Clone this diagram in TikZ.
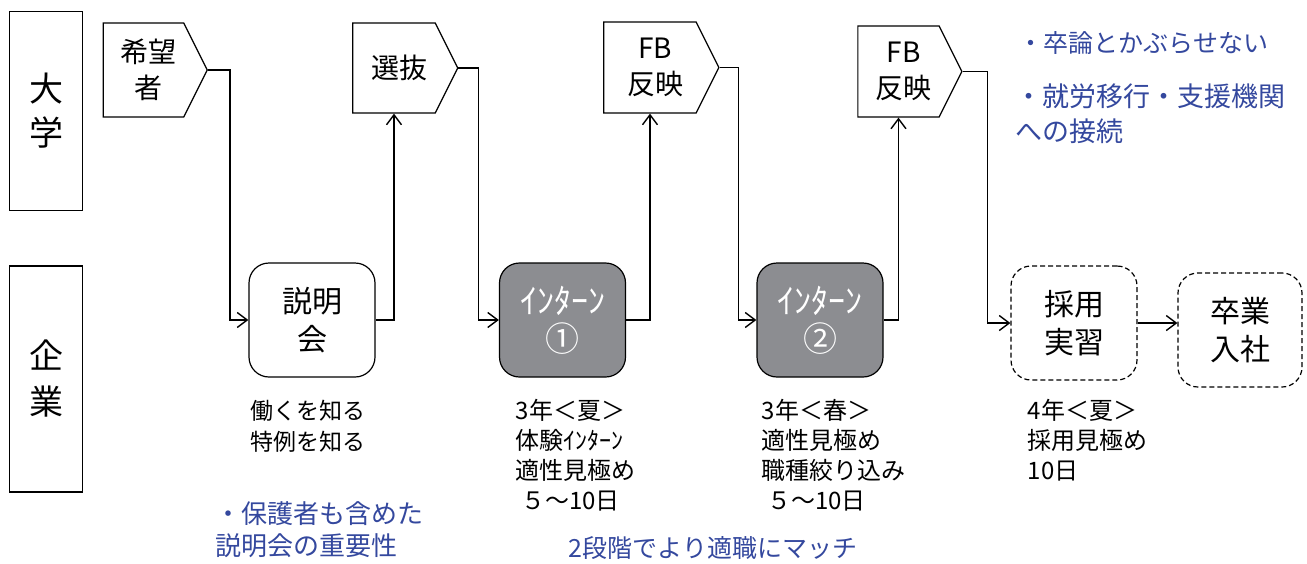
\documentclass[tikz,border=0pt]{standalone}
\usepackage{fontspec}
\setmainfont{Noto Sans CJK JP}
\usetikzlibrary{arrows.meta,shapes.symbols,positioning}
\definecolor{interngray}{RGB}{140,141,145}
\definecolor{noteblue}{RGB}{52,72,158}

\begin{document}
\begin{tikzpicture}[x=1pt, y=-1pt, line width=1.4pt,
  >={Straight Barb[length=10pt,width=15pt]},
  side/.style={draw, line width=1.2pt, minimum width=73pt, align=center, font=\fontsize{34}{44}\selectfont},
  flag/.style={draw, line width=1.2pt, signal, signal to=east, signal pointer angle=127},
  flagtext/.style={xshift=5pt, align=center, font=\fontsize{28}{36}\selectfont},
  stage/.style={draw, line width=1.2pt, rounded corners=20pt, minimum width=126pt, minimum height=114pt, align=center, font=\fontsize{30}{38}\selectfont},
  intern/.style={stage, fill=interngray, text=white, font=\fontsize{34}{38}\selectfont},
  plan/.style={stage, dash pattern=on 5pt off 3pt},
  memo/.style={anchor=north west, inner sep=0pt, align=left, font=\fontsize{24}{30}\selectfont},
  remark/.style={inner sep=0pt, align=left, text=noteblue, font=\fontsize{27}{34}\selectfont}]
\useasboundingbox (0,0) rectangle (1307,563);

\node[side, minimum height=199pt] (univ) at (46,111) {大\\学};
\node[side, minimum height=226pt, font=\fontsize{34}{46}\selectfont] (firm) at (46,379) {企\\業};

\node[flag, minimum width=104pt, minimum height=94pt, label={[flagtext]center:希望\\者}] (wish) at (143.5,70) {};
\node[flag, minimum width=105pt, minimum height=90pt, label={[flagtext]center:選抜}] (select) at (394,68) {};
\node[flag, minimum width=115pt, minimum height=91pt, label={[flagtext]center:FB\\反映}] (fbA) at (650,67.5) {};
\node[flag, minimum width=104pt, minimum height=91pt, label={[flagtext]center:FB\\反映}] (fbB) at (898.5,71.5) {};

\node[stage] (info) at (312,320) {説明\\会};
\node[intern] (internA) at (562.5,320) {ｲﾝﾀｰﾝ\\①};
\node[intern] (internB) at (820,320) {ｲﾝﾀｰﾝ\\②};
\node[plan] (trial) at (1074,323) {採用\\実習};
\node[plan, minimum width=124pt] (join) at (1240,330) {卒業\\入社};

\draw[->] (wish.east) -- ++(22,0) |- (info.west);
\draw[->] (info.east) -| (select.south);
\draw[->] (select.east) -- ++(20,0) |- (internA.west);
\draw[->] (internA.east) -| (fbA.south);
\draw[->] (fbA.east) -- ++(19,0) |- (internB.west);
\draw[->] (internB.east) -| (fbB.south);
\draw[->] (fbB.east) -- ++(25,0) |- (trial.west);
\draw[->] (trial.east) -- (trial.east -| join.west);

\node[memo, font=\fontsize{23}{31}\selectfont] (infoNote) at (250,399) {働くを知る\\特例を知る};
\node[memo] (internANote) at (515,399) {3年＜夏＞\\体験ｲﾝﾀｰﾝ\\適性見極め\\\ ５～10日};
\node[memo] (internBNote) at (761,399) {3年＜春＞\\適性見極め\\職種絞り込み\\\ ５～10日};
\node[memo] (trialNote) at (1027,399) {4年＜夏＞\\採用見極め\\10日};

% blue remarks
\node[remark, anchor=west, font=\fontsize{25}{34}\selectfont] (thesis) at (1018,43) {・卒論とかぶらせない};
\node[remark, anchor=north west, font=\fontsize{27}{35}\selectfont] (support) at (1015,83) {・就労移行・支援機関\\への接続};
\node[remark, anchor=north west, font=\fontsize{26}{32}\selectfont] (parents) at (215,501) {・保護者も含めた\\説明会の重要性};
\node[remark, font=\fontsize{25}{34}\selectfont] (twostep) at (713,548) {2段階でより適職にマッチ};
\end{tikzpicture}
\end{document}
